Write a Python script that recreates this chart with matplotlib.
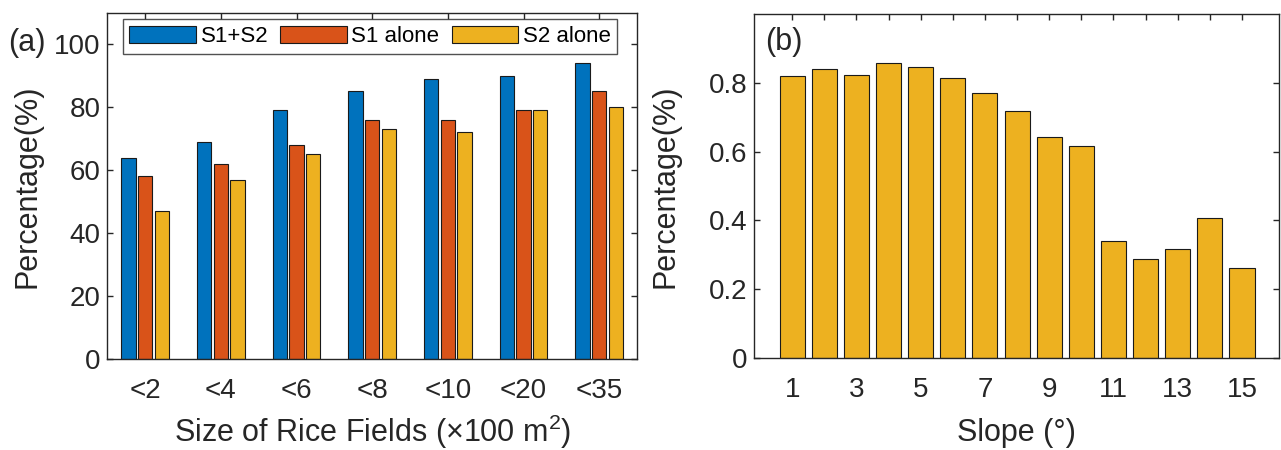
import numpy as np
import matplotlib
matplotlib.use("Agg")
import matplotlib.pyplot as plt

plt.rcParams['font.family'] = ['Liberation Sans', 'DejaVu Sans']
plt.rcParams['mathtext.fontset'] = 'custom'
plt.rcParams['mathtext.rm'] = 'Liberation Sans'

# panel (a) data
size_labels = ['<2', '<4', '<6', '<8', '<10', '<20', '<35']
s1_s2 = [64, 69, 79, 85, 89, 90, 94]
s1_alone = [58, 62, 68, 76, 76, 79, 85]
s2_alone = [47, 57, 65, 73, 72, 79, 80]
series_names = ['S1+S2', 'S1 alone', 'S2 alone']

# panel (b) data
slope = list(range(1, 16))
slope_pct = [0.821, 0.842, 0.824, 0.858, 0.847, 0.814, 0.771, 0.717,
             0.643, 0.617, 0.339, 0.286, 0.316, 0.408, 0.261]

colors = ['#0072BD', '#D95319', '#EDB120']
axcol = '#262626'
fs = 20      # tick labels
lfs = 22     # axis labels (matlab uses 1.1x)

fig = plt.figure(figsize=(12.81, 4.5), dpi=100)
ax1 = fig.add_axes([0.0838, 0.2022, 0.4135, 0.7696])
ax2 = fig.add_axes([0.5888, 0.2051, 0.4096, 0.7631])


def style_axes(ax):
    for sp in ax.spines.values():
        sp.set_color(axcol)
        sp.set_linewidth(1.0)
    ax.tick_params(direction='in', length=4.5, width=1.0, colors=axcol,
                   labelsize=fs, top=True, right=True)
    ax.tick_params(axis='y', pad=5)
    ax.tick_params(axis='x', pad=14)


# (a) grouped bars
x = np.arange(1, len(size_labels) + 1)
offsets = [-0.22, 0.0, 0.22]
for vals, off, c, name in zip([s1_s2, s1_alone, s2_alone], offsets, colors, series_names):
    ax1.bar(x + off, vals, width=0.19, color=c, edgecolor='#1a1a1a',
            linewidth=0.8, label=name, zorder=2)
ax1.set_xlim(0.5, 7.5)
ax1.set_ylim(0, 110)
ax1.set_yticks([0, 20, 40, 60, 80, 100])
ax1.set_xticks(x)
ax1.set_xticklabels(size_labels)
style_axes(ax1)
ax1.set_ylabel('Percentage(%)', fontsize=lfs, color=axcol, labelpad=8)
ax1.set_xlabel(r'Size of Rice Fields (×100 m$^{\mathregular{2}}$)', fontsize=lfs,
               color=axcol, labelpad=6)
leg = ax1.legend(loc='upper left', bbox_to_anchor=(0.029, 0.982), ncol=3,
                 fontsize=16, frameon=True, fancybox=False, borderpad=0.3,
                 handlelength=3.0, handleheight=0.85, handletextpad=0.2,
                 columnspacing=0.55, borderaxespad=0)
leg.get_frame().set_edgecolor(axcol)
leg.get_frame().set_linewidth(1.0)
fig.text(0.006, 0.905, '(a)', fontsize=lfs, color=axcol, va='center', ha='left')

# (b) slope bars
ax2.bar(slope, slope_pct, width=0.78, color=colors[2], edgecolor='#1a1a1a',
        linewidth=0.8, zorder=2)
ax2.set_xlim(-0.18, 16.15)
ax2.set_ylim(0, 1.0)
ax2.set_yticks([0, 0.2, 0.4, 0.6, 0.8])
ax2.set_yticklabels(['0', '0.2', '0.4', '0.6', '0.8'])
ax2.set_xticks(slope)
ax2.set_xticklabels([str(s) if s % 2 == 1 else '' for s in slope])
style_axes(ax2)
ax2.set_ylabel('Percentage(%)', fontsize=lfs, color=axcol, labelpad=20)
ax2.set_xlabel('Slope (°)', fontsize=lfs, color=axcol, labelpad=11)
ax2.text(0.02, 0.92, '(b)', transform=ax2.transAxes, fontsize=lfs, color=axcol,
         va='center', ha='left')

fig.savefig('out.png', dpi=100)
